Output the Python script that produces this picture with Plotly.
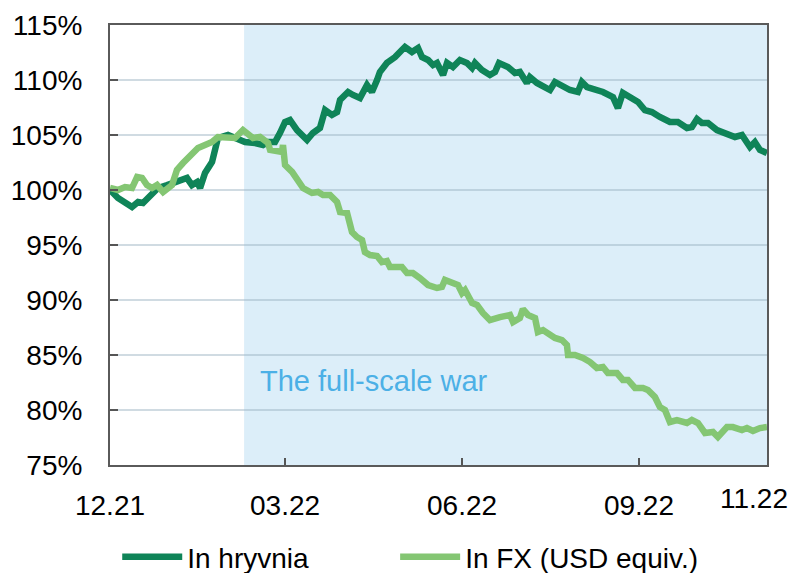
import pandas as pd
import plotly.graph_objects as go

# ---------------- data ----------------
base_date = "2021-12-01"

hryvnia_days = [-1.6, 2.6, 10.0, 13.2, 15.8, 18.4, 20.6, 23.7, 28.5, 34.3, 39.0, 41.6, 44.3, 45.9,
                48.5, 52.2, 53.8, 55.3, 60.6, 65.9, 69.6, 74.9, 79.1, 81.7, 85.4, 88.0, 90.7, 93.3,
                97.0, 102.3, 105.4, 109.1, 111.8, 115.4, 118.1, 119.7, 123.9, 126.5, 130.2, 133.9,
                136.5, 139.2, 140.7, 144.4, 148.7, 152.3, 153.9, 157.6, 160.8, 162.9, 166.1, 168.7,
                170.8, 174.0, 176.1, 179.2, 182.9, 186.6, 189.3, 190.8, 194.5, 198.7, 201.4, 203.5,
                208.2, 211.9, 214.5, 218.2, 219.8, 223.5, 226.7, 230.4, 233.0, 237.2, 240.9, 245.1,
                247.2, 249.9, 255.1, 258.3, 263.6, 266.2, 268.8, 272.5, 276.8, 280.4, 284.1, 288.3,
                293.6, 297.8, 302.6, 305.2, 307.9, 310.5, 313.7, 318.4, 322.6, 327.9, 331.6, 335.8,
                338.4, 341.1, 344.8]
hryvnia_vals = [100.0, 99.27, 98.45, 98.91, 98.82, 99.27, 99.82, 100.18, 100.45, 100.73, 101.09, 100.45,
                100.73, 100.18, 101.55, 102.55, 103.91, 104.73, 105.0, 104.55, 104.36, 104.27, 104.09,
                104.36, 104.36, 105.18, 106.18, 106.36, 105.45, 104.55, 105.18, 105.64, 107.27, 106.82,
                107.09, 108.18, 108.91, 108.64, 108.36, 109.55, 108.91, 110.0, 110.73, 111.55, 112.09,
                112.73, 113.0, 112.55, 112.91, 112.09, 111.82, 111.36, 111.55, 110.45, 111.55, 111.18,
                111.82, 111.55, 111.09, 111.55, 110.91, 110.45, 110.73, 111.55, 111.18, 110.64, 110.73,
                109.73, 110.27, 109.73, 109.36, 109.09, 109.82, 109.36, 109.09, 108.91, 109.82, 109.36,
                109.09, 108.91, 108.45, 107.45, 108.82, 108.36, 108.0, 107.27, 107.09, 106.64, 106.18,
                106.18, 105.64, 105.73, 106.45, 106.09, 106.09, 105.45, 105.18, 104.82, 105.0, 103.91,
                104.36, 103.64, 103.36]

fx_days = [-1.6, 2.6, 6.3, 10.0, 12.7, 15.3, 17.9, 20.6, 23.2, 26.4, 31.1, 33.7, 36.9, 41.6, 44.8,
           48.5, 52.2, 55.3, 60.6, 64.3, 68.5, 71.2, 73.8, 77.5, 80.1, 81.7, 82.8, 89.1, 89.6, 90.7,
           94.4, 97.0, 100.2, 104.9, 108.1, 110.7, 114.4, 118.1, 119.7, 123.4, 126.0, 128.6, 131.3,
           132.8, 135.5, 139.2, 141.8, 144.4, 146.0, 148.7, 152.3, 155.0, 158.1, 161.8, 166.1, 170.8,
           173.4, 175.0, 178.7, 181.9, 184.0, 185.6, 189.3, 191.9, 195.0, 198.7, 204.0, 209.3, 210.9,
           214.5, 216.1, 218.8, 222.5, 224.0, 226.7, 230.4, 233.0, 236.7, 239.3, 239.9, 243.5, 247.8,
           251.5, 255.1, 258.3, 260.9, 265.7, 268.8, 271.5, 275.2, 279.4, 282.0, 285.7, 288.3, 291.0,
           293.6, 297.3, 302.6, 305.2, 308.4, 312.1, 316.3, 318.9, 323.7, 326.8, 331.6, 334.2, 337.4,
           341.1, 344.8]
fx_vals = [100.18, 100.0, 100.27, 100.18, 101.18, 101.09, 100.45, 100.18, 100.45, 99.82, 100.45, 101.82,
           102.45, 103.18, 103.82, 104.09, 104.36, 104.82, 104.82, 104.73, 105.45, 105.0, 104.73, 104.82,
           104.55, 104.27, 103.64, 103.45, 104.09, 102.27, 101.64, 100.91, 100.18, 99.73, 99.82, 99.55,
           99.55, 98.91, 98.0, 97.91, 96.18, 95.73, 95.45, 94.36, 94.09, 94.0, 93.45, 93.55, 93.0, 93.0,
           93.0, 92.45, 92.45, 92.0, 91.36, 91.09, 91.18, 91.82, 91.55, 91.36, 90.64, 90.91, 89.73, 89.55,
           88.82, 88.18, 88.45, 88.64, 88.0, 88.36, 89.18, 88.64, 88.36, 87.09, 87.27, 86.82, 86.55, 86.36,
           85.91, 85.0, 85.0, 84.73, 84.36, 83.82, 83.91, 83.36, 83.36, 82.73, 82.73, 82.0, 82.0, 81.82,
           81.18, 80.27, 80.0, 78.91, 79.09, 78.82, 79.09, 78.82, 77.91, 78.0, 77.55, 78.45, 78.45, 78.18,
           78.36, 78.09, 78.36, 78.45]

war_start_day = 69.1
x_tick_days = [-1.6, 90.7, 184.0, 277.3]
x_tick_labels = ["12.21", "03.22", "06.22", "09.22"]
end_label = "11.22"
end_label_day = 337.8
y_tick_vals = [75, 80, 85, 90, 95, 100, 105, 110, 115]
y_tick_labels = [f"{v}%" for v in y_tick_vals]
war_label = "The full-scale war"
war_label_day = 76.4
war_label_val = 82.6

# ---------------- helpers ----------------
base = pd.Timestamp(base_date)


def to_dates(days):
    return [base + pd.Timedelta(days=d) for d in days]


hrv_x = to_dates(hryvnia_days)
fx_x = to_dates(fx_days)
x_start = hrv_x[0]
x_end = hrv_x[-1]

DARK = "#0F8458"
LIGHT = "#84C673"
FONT = "Liberation Sans, Arial, sans-serif"
FS = 28

fig = go.Figure()
fig.add_trace(go.Scatter(x=hrv_x, y=hryvnia_vals, mode="lines", name="In hryvnia",
                         line=dict(color=DARK, width=6.5), legend="legend"))
fig.add_trace(go.Scatter(x=fx_x, y=fx_vals, mode="lines", name="In FX (USD equiv.)",
                         line=dict(color=LIGHT, width=6.5), legend="legend2"))

fig.add_shape(type="rect", xref="x", yref="paper",
              x0=to_dates([war_start_day])[0], x1=x_end, y0=0, y1=1,
              fillcolor="#DCEEF9", line=dict(width=0), layer="below")

fig.add_annotation(x=to_dates([war_label_day])[0], y=war_label_val, text=war_label,
                   showarrow=False, xanchor="left", yanchor="middle",
                   font=dict(family=FONT, size=29, color="#4CB0E6"))

fig.add_annotation(x=to_dates([end_label_day])[0], y=0, yref="paper", text=end_label,
                   showarrow=False, xanchor="center", yanchor="top", yshift=-16,
                   font=dict(family=FONT, size=FS, color="#000000"))

legend_common = dict(orientation="h", xanchor="left", y=-0.209, yanchor="middle",
                     font=dict(family=FONT, size=FS, color="#000000"),
                     itemwidth=60, bgcolor="rgba(0,0,0,0)")

fig.update_layout(
    width=798, height=600,
    margin=dict(l=102, r=39, t=17, b=143),
    paper_bgcolor="white", plot_bgcolor="white",
    font=dict(family=FONT, size=FS, color="#000000"),
    showlegend=True,
    legend=dict(x=0.011, **legend_common),
    legend2=dict(x=0.434, **legend_common),
)

fig.update_xaxes(type="date", range=[x_start, x_end], automargin=False,
                 tickvals=to_dates(x_tick_days), ticktext=x_tick_labels,
                 ticks="inside", ticklen=7, tickwidth=2, tickcolor="#555555",
                 showgrid=False, showline=True, linecolor="#5A5A5A", linewidth=2, mirror=True,
                 ticklabelstandoff=14, tickfont=dict(family=FONT, size=FS, color="#000000"))

fig.update_yaxes(range=[75, 115], tickvals=y_tick_vals, ticktext=y_tick_labels, automargin=False,
                 ticks="inside", ticklen=8, tickwidth=2, tickcolor="#555555",
                 showgrid=True, gridcolor="rgba(150,175,190,0.45)", gridwidth=2,
                 showline=True, linecolor="#5A5A5A", linewidth=2, mirror=True,
                 zeroline=False, ticklabelstandoff=20,
                 tickfont=dict(family=FONT, size=FS, color="#000000"))

fig.write_html("out.html")
